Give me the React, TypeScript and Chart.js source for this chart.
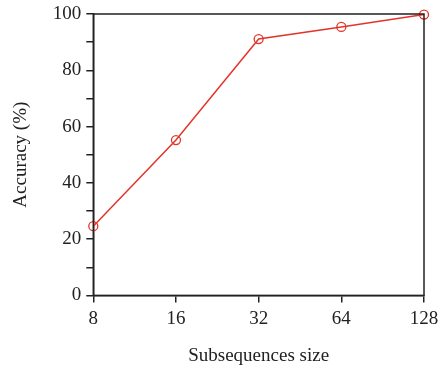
import React, { useEffect, useRef } from "react";
import { Chart, registerables } from "chart.js";

Chart.register(...registerables);

const categories = ["8", "16", "32", "64", "128"];
const accuracy = [24.6, 55.2, 91.1, 95.4, 99.8];
const yTicksMajor = [0, 20, 40, 60, 80, 100];

const FONT = "'Liberation Serif', 'DejaVu Serif', serif";

const framePlugin = {
  id: "frame",
  afterDraw(chart: any) {
    const { ctx, chartArea } = chart;
    ctx.save();
    ctx.strokeStyle = "#222";
    ctx.lineWidth = 1.5;
    ctx.strokeRect(chartArea.left, chartArea.top, chartArea.right - chartArea.left, chartArea.bottom - chartArea.top);
    ctx.restore();
  },
};

export default function App() {
  const ref = useRef<HTMLCanvasElement>(null);
  useEffect(() => {
    if (!ref.current) return;
    const chart = new Chart(ref.current, {
      type: "line",
      data: {
        labels: categories,
        datasets: [
          {
            data: accuracy,
            borderColor: "#e3342a",
            borderWidth: 1.5,
            pointRadius: 4.5,
            pointBorderWidth: 1.3,
            pointBackgroundColor: "rgba(255,255,255,0)",
            pointBorderColor: "#e3342a",
            clip: false as any,
          },
        ],
      },
      options: {
        animation: false,
        responsive: false,
        maintainAspectRatio: false,
        layout: { padding: { left: 10, right: 17, top: 14, bottom: 6 } },
        plugins: { legend: { display: false }, tooltip: { enabled: false } },
        scales: {
          x: {
            offset: false,
            afterFit: (s: any) => { s.paddingRight = 0; },
            grid: { drawOnChartArea: false, tickLength: 7, color: "#222", lineWidth: 1.5 },
            border: { color: "#222", width: 1.5 },
            ticks: { color: "#222", font: { family: FONT, size: 19 }, padding: 5, maxRotation: 0 },
            title: { display: true, text: "Subsequences size", color: "#222", font: { family: FONT, size: 19 }, padding: { top: 9, bottom: 0 } },
          },
          y: {
            min: 0,
            max: 100,
            afterFit: (s: any) => { s.paddingTop = 0; },
            grid: { drawOnChartArea: false, tickLength: 7, color: "#222", lineWidth: 1.5 },
            border: { color: "#222", width: 1.5 },
            ticks: {
              stepSize: 10,
              color: "#222",
              font: { family: FONT, size: 19 },
              padding: 5,
              callback: (v: any) => (yTicksMajor.includes(Number(v)) ? String(v) : ""),
            },
            title: { display: true, text: "Accuracy (%)", color: "#222", font: { family: FONT, size: 19 }, padding: { top: 0, bottom: 15 } },
          },
        },
      },
      plugins: [framePlugin],
    });
    return () => chart.destroy();
  }, []);
  return (
    <div style={{ position: "fixed", left: 0, top: 0, width: 441, height: 373, background: "#fff" }}>
      <canvas ref={ref} width={441} height={373} style={{ width: 441, height: 373 }} />
    </div>
  );
}
